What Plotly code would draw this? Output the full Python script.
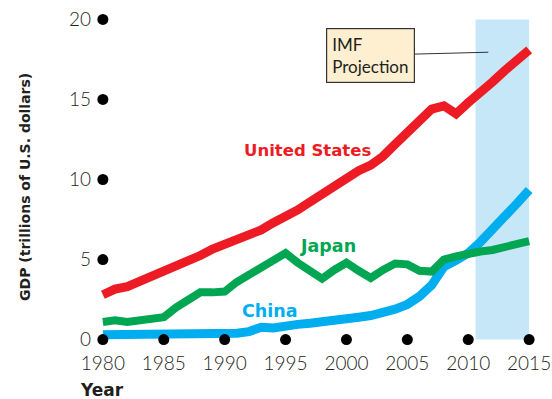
import plotly.graph_objects as go

years = list(range(1980, 2016))
us = [2.8, 3.15, 3.3, 3.6, 4.0, 4.35, 4.6, 4.9, 5.25, 5.65, 5.95, 6.15, 6.5, 6.85, 7.3, 7.65,
      8.1, 8.6, 9.1, 9.65, 10.2, 10.55, 10.9, 11.45, 12.2, 13.0, 13.8, 14.4, 14.6, 14.1,
      14.8, 15.4, 16.1, 16.8, 17.5, 18.1]
japan = [1.1, 1.2, 1.1, 1.2, 1.3, 1.4, 2.0, 2.5, 2.95, 2.95, 3.0, 3.6, 4.05, 4.55, 5.0, 5.4,
         4.8, 4.35, 3.8, 4.35, 4.8, 4.3, 3.85, 4.35, 4.75, 4.7, 4.3, 4.25, 5.0, 5.2,
         5.4, 5.5, 5.6, 5.8, 6.0, 6.15]
china = [0.3, 0.3, 0.3, 0.3, 0.3, 0.3, 0.3, 0.3, 0.35, 0.35, 0.35, 0.4, 0.5, 0.77, 0.72, 0.87,
         0.95, 1.02, 1.08, 1.15, 1.3, 1.4, 1.5, 1.68, 1.9, 2.2, 2.7, 3.4, 4.55, 4.95,
         5.4, 6.1, 6.85, 7.65, 8.5, 9.35]
x_ticks = [1980, 1985, 1990, 1995, 2000, 2005, 2010, 2015]
y_ticks = [0, 5, 10, 15, 20]
proj_start, proj_end = 2010.6, 2015

RED, GREEN, BLUE = "#ED1C24", "#00A651", "#00AEEF"
TXT = "#231F20"
FONT = "Lato"
BOLD = "DejaVu Sans"

fig = go.Figure()
fig.add_shape(type="rect", x0=proj_start, x1=proj_end, y0=0, y1=20,
              fillcolor="#C6E7F7", line_width=0, layer="below")

for vals, col, w in [(china, BLUE, 9), (japan, GREEN, 8), (us, RED, 9)]:
    fig.add_trace(go.Scatter(x=years, y=vals, mode="lines",
                             line=dict(color=col, width=w), hoverinfo="skip"))

# tick dots
fig.add_trace(go.Scatter(x=x_ticks + [x_ticks[0]] * (len(y_ticks) - 1),
                         y=[0] * len(x_ticks) + y_ticks[1:],
                         mode="markers", marker=dict(color="black", size=11),
                         cliponaxis=False, hoverinfo="skip"))

ann = [
    dict(x=1996.84, y=11.84, text="<b>United States</b>", font=dict(color=RED, size=16.5, family=BOLD)),
    dict(x=1998.49, y=5.86, text="<b>Japan</b>", font=dict(color=GREEN, size=17.5, family=BOLD)),
    dict(x=1993.72, y=1.81, text="<b>China</b>", font=dict(color=BLUE, size=17.5, family=BOLD)),
]
for a in ann:
    fig.add_annotation(showarrow=False, xref="x", yref="y", xanchor="center", yanchor="middle", **a)

fig.add_annotation(x=2011.65, y=17.95, xref="x", yref="y", text="IMF<br>Projection",
                   align="left", showarrow=True, arrowhead=0, arrowwidth=1, arrowcolor="#333",
                   ax=-117.5, ay=3, bgcolor="#FDEFD0", bordercolor="#333", borderwidth=1.2,
                   borderpad=5, font=dict(size=17, color=TXT, family=FONT))

fig.add_annotation(x=-0.1677, y=0.4775, xref="paper", yref="paper", showarrow=False,
                   xanchor="center", yanchor="middle",
                   text="<b>GDP (trillions of U.S. dollars)</b>", textangle=-90,
                   font=dict(size=14, color=TXT, family=BOLD))
fig.add_annotation(x=0.01, y=-0.131, xref="paper", yref="paper", showarrow=False,
                   xanchor="center", yanchor="middle",
                   text="<b>Year</b>", font=dict(size=17, color=TXT, family=BOLD))

fig.update_layout(
    width=552, height=399, showlegend=False,
    margin=dict(l=98.1, r=18.1, t=12.6, b=52.6, autoexpand=False),
    plot_bgcolor="white", paper_bgcolor="white",
    xaxis=dict(range=[1979.6, 2015.4], tickvals=x_ticks, showgrid=False, zeroline=False,
               showline=False, ticks="", tickfont=dict(size=19, color=TXT, family=FONT, weight=300),
               ticklabelstandoff=4, ticklabeloverflow="allow"),
    yaxis=dict(range=[-0.4, 20.4], tickvals=y_ticks, showgrid=False, zeroline=False,
               showline=False, ticks="", tickfont=dict(size=19, color=TXT, family=FONT, weight=300),
               ticklabelstandoff=6, ticklabeloverflow="allow"),
)
fig.write_html("out.html", config={"displayModeBar": False},
               post_script="document.body.style.margin='0';"
                           "document.documentElement.style.overflow='hidden';")
